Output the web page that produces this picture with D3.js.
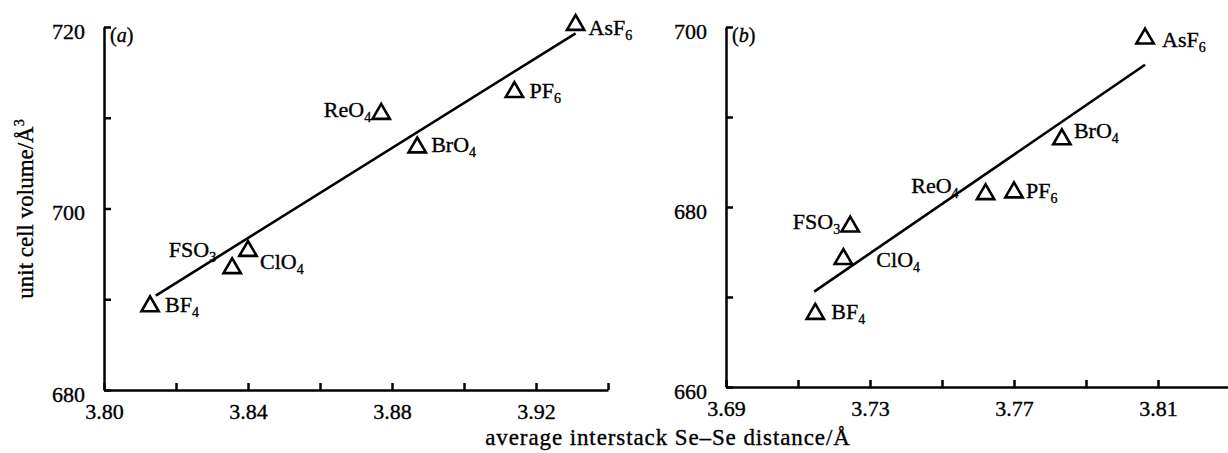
<!DOCTYPE html>
<html>
<head>
<meta charset="utf-8">
<script src="https://cdn.jsdelivr.net/npm/d3@7"></script>
<style>
	body { margin: 0; background: #fff; }
	svg text { font-family: "Liberation Serif", "Times New Roman", serif; fill: #000; stroke: #000; stroke-width: 0.35px; }
</style>
</head>
<body>
<svg id="chart" width="1228" height="453"></svg>
<script>
// aniones, mismo orden en los dos paneles
const anions = ["BF4", "FSO3", "ClO4", "ReO4", "BrO4", "PF6", "AsF6"];

// panel (a): distancia Se-Se media (Å) y volumen de celda (Å³)
const distA = [3.8128, 3.8356, 3.8400, 3.8770, 3.8870, 3.9140, 3.9310];
const volA  = [689.5, 693.7, 695.6, 710.7, 707.0, 713.1, 720.5];
const fitDistA = [3.8144, 3.9310];
const fitVolA  = [690.4, 719.3];

// panel (b)
const distB = [3.7148, 3.7245, 3.7226, 3.7621, 3.7833, 3.7700, 3.8064];
const volB  = [668.4, 678.1, 674.5, 681.7, 687.8, 681.9, 699.0];
const fitDistB = [3.7145, 3.8064];
const fitVolB  = [670.6, 695.8];

// ticks
const xTicksA  = [3.80, 3.82, 3.84, 3.86, 3.88, 3.90, 3.92, 3.94];
const xLabelsA = [3.80, 3.84, 3.88, 3.92];
const yTicksA  = [680, 690, 700, 710, 720];
const yLabelsA = [680, 700, 720];
const xTicksB  = [3.69, 3.71, 3.73, 3.75, 3.77, 3.79, 3.81];
const xLabelsB = [3.69, 3.73, 3.77, 3.81];
const yTicksB  = [660, 670, 680, 690, 700];
const yLabelsB = [660, 680, 700];

// colocación de las etiquetas respecto al triángulo (solo maquetación)
const labelPosA = {
	BF4: [15, 8, "start"], FSO3: [-16, -9, "end"], ClO4: [12, 21, "start"],
	ReO4: [-10, 6, "end"], BrO4: [14, 7, "start"], PF6: [15, 8, "start"], AsF6: [13, 13, "start"]
};
const labelPosB = {
	BF4: [16, 8, "start"], FSO3: [-10, 5, "end"], ClO4: [33, 10, "start"],
	ReO4: [-27, 1, "end"], BrO4: [12, 1, "start"], PF6: [12, 8, "start"], AsF6: [17, 11, "start"]
};

const serif = '"Liberation Serif", "Times New Roman", serif';
const svg = d3.select("#chart");

// triángulo con el centro de la caja en el origen
const triangle = {
	draw(ctx, size) {
		const w = Math.sqrt(size), h = w * 0.86;
		ctx.moveTo(0, -h / 2);
		ctx.lineTo(w / 2, h / 2);
		ctx.lineTo(-w / 2, h / 2);
		ctx.closePath();
	}
};

function isLabel(list, v) {
	return list.some(l => Math.abs(l - v) < 1e-9);
}

function addFormula(sel, name) {
	// los dígitos van como subíndice
	const m = name.match(/^(\D+)(\d*)$/);
	sel.append("tspan").text(m[1]);
	if (m[2]) {
		sel.append("tspan").attr("dy", 5).attr("font-size", 14).text(m[2]);
	}
}

function drawPanel(cfg) {
	const x = d3.scaleLinear().domain(cfg.xDomain).range(cfg.xRange);
	const y = d3.scaleLinear().domain(cfg.yDomain).range(cfg.yRange);
	const g = svg.append("g");

	const xAxis = d3.axisBottom(x)
		.tickValues(cfg.xTicks)
		.tickSizeInner(-7).tickSizeOuter(0).tickPadding(13)
		.tickFormat(d => isLabel(cfg.xLabels, d) ? d3.format(".2f")(d) : "");
	const yAxis = d3.axisLeft(y)
		.tickValues(cfg.yTicks)
		.tickSizeInner(-7).tickSizeOuter(0).tickPadding(19)
		.tickFormat(d => isLabel(cfg.yLabels, d) ? d3.format("d")(d) : "");

	const gx = g.append("g").attr("transform", `translate(0,${cfg.yRange[0]})`).call(xAxis);
	const gy = g.append("g").attr("transform", `translate(${cfg.xRange[0]},0)`).call(yAxis);
	[gx, gy].forEach(a => {
		a.attr("font-family", null).attr("font-size", null);
		a.select(".domain").attr("stroke", "#000").attr("stroke-width", 2.5);
		a.selectAll(".tick line").attr("stroke", "#000").attr("stroke-width", 2.5);
		a.selectAll(".tick text")
			.style("font-family", serif)
			.style("font-size", "22px")
			.attr("fill", "#000");
	});
	gy.selectAll(".tick text").attr("dy", "0.5em");

	// recta de ajuste
	g.append("line")
		.attr("x1", x(cfg.fitX[0])).attr("y1", y(cfg.fitY[0]))
		.attr("x2", x(cfg.fitX[1])).attr("y2", y(cfg.fitY[1]))
		.attr("stroke", "#000").attr("stroke-width", 2.6);

	const pts = anions.map((n, i) => ({ name: n, d: cfg.dist[i], v: cfg.vol[i] }));

	g.selectAll("path.pt")
		.data(pts)
		.enter()
		.append("path")
		.attr("class", "pt")
		.attr("d", d3.symbol(triangle, 300))
		.attr("transform", d => `translate(${x(d.d)},${y(d.v)})`)
		.attr("fill", "none")
		.attr("stroke", "#000")
		.attr("stroke-width", 2.6)
		.attr("stroke-linejoin", "miter");

	g.selectAll("text.lbl")
		.data(pts)
		.enter()
		.append("text")
		.attr("class", "lbl")
		.attr("font-size", 22)
		.attr("x", d => x(d.d) + cfg.labelPos[d.name][0])
		.attr("y", d => y(d.v) + cfg.labelPos[d.name][1])
		.attr("text-anchor", d => cfg.labelPos[d.name][2])
		.each(function(d) { addFormula(d3.select(this), d.name); });

	// letra del panel
	const tag = g.append("text")
		.attr("x", cfg.xRange[0] + 6)
		.attr("y", cfg.yRange[1] + 15)
		.attr("font-size", 20);
	tag.append("tspan").text("(");
	tag.append("tspan").attr("font-style", "italic").text(cfg.tag);
	tag.append("tspan").text(")");
}

drawPanel({
	dist: distA, vol: volA, fitX: fitDistA, fitY: fitVolA,
	xDomain: [3.80, 3.94], xRange: [104, 608],
	yDomain: [680, 720], yRange: [390, 27],
	xTicks: xTicksA, xLabels: xLabelsA, yTicks: yTicksA, yLabels: yLabelsA,
	labelPos: labelPosA, tag: "a"
});

drawPanel({
	dist: distB, vol: volB, fitX: fitDistB, fitY: fitVolB,
	xDomain: [3.69, 3.83], xRange: [726, 1230],
	yDomain: [660, 700], yRange: [387, 27],
	xTicks: xTicksB, xLabels: xLabelsB, yTicks: yTicksB, yLabels: yLabelsB,
	labelPos: labelPosB, tag: "b"
});

// títulos de los ejes
svg.append("text")
	.attr("x", 668).attr("y", 445)
	.attr("text-anchor", "middle")
	.attr("font-size", 23)
	.attr("letter-spacing", 0.9)
	.text("average interstack Se–Se distance/Å");

const yt = svg.append("text")
	.attr("transform", "translate(33,209) rotate(-90)")
	.attr("text-anchor", "middle")
	.attr("font-size", 23);
yt.append("tspan").text("unit cell volume/Å");
yt.append("tspan").attr("dy", -9).attr("font-size", 14).text("3");
</script>
</body>
</html>
